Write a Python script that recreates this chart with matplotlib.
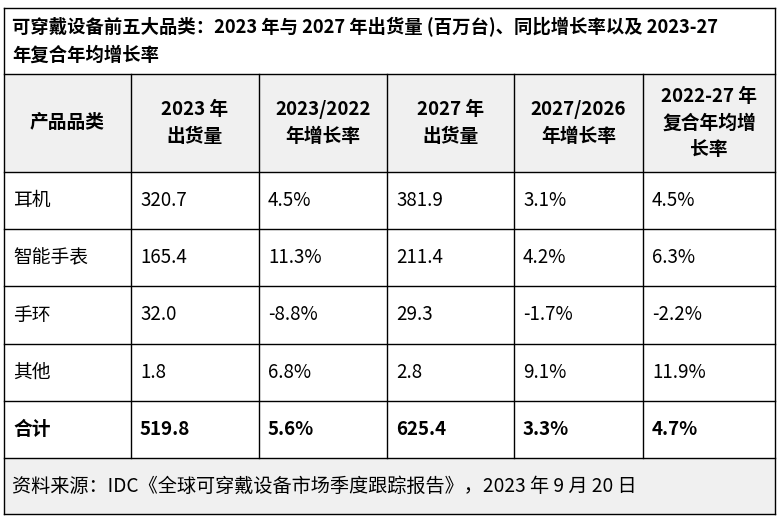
import matplotlib
matplotlib.use('Agg')
import matplotlib.pyplot as plt

plt.rcParams['font.family'] = ['Noto Sans CJK SC', 'DejaVu Sans']

# --- data ---
title = '可穿戴设备前五大品类：2023 年与 2027 年出货量 (百万台)、同比增长率以及 2023-27\n年复合年均增长率'
headers = ['产品品类', '2023 年\n出货量', '2023/2022\n年增长率', '2027 年\n出货量', '2027/2026\n年增长率', '2022-27 年\n复合年均增\n长率']
categories = ['耳机', '智能手表', '手环', '其他', '合计']
ship_2023 = ['320.7', '165.4', '32.0', '1.8', '519.8']
growth_2023 = ['4.5%', '11.3%', '-8.8%', '6.8%', '5.6%']
ship_2027 = ['381.9', '211.4', '29.3', '2.8', '625.4']
growth_2027 = ['3.1%', '4.2%', '-1.7%', '9.1%', '3.3%']
cagr = ['4.5%', '6.3%', '-2.2%', '11.9%', '4.7%']
source = '资料来源：IDC《全球可穿戴设备市场季度跟踪报告》，2023 年 9 月 20 日'

# --- layout (pixels) ---
W, H = 784, 522
col_x = [4, 131, 259, 387, 514, 643, 775]
top, title_bot, head_bot = 8, 74, 172
row_h = 57.2
src_bot = 514
gray = '#f0f0f0'

fig = plt.figure(figsize=(W / 100, H / 100), dpi=100)
ax = fig.add_axes([0, 0, 1, 1])
ax.set_xlim(0, W)
ax.set_ylim(H, 0)
ax.axis('off')

n = len(categories)
row_tops = [head_bot + i * row_h for i in range(n + 1)]
src_top = row_tops[-1]

ax.add_patch(plt.Rectangle((col_x[0], title_bot), col_x[-1] - col_x[0], head_bot - title_bot, color=gray, lw=0))
ax.add_patch(plt.Rectangle((col_x[0], src_top), col_x[-1] - col_x[0], src_bot - src_top, color=gray, lw=0))

lc, lw = 'black', 1.0
for y in [top, title_bot, head_bot] + row_tops[1:] + [src_bot]:
    ax.plot([col_x[0], col_x[-1]], [y, y], color=lc, lw=lw)
ax.plot([col_x[0]] * 2, [top, src_bot], color=lc, lw=lw)
ax.plot([col_x[-1]] * 2, [top, src_bot], color=lc, lw=lw)
for x in col_x[1:-1]:
    ax.plot([x, x], [title_bot, src_top], color=lc, lw=lw)

ax.text(12, 41, title, fontsize=13.2, fontweight='bold', va='center', ha='left', linespacing=1.6)

for i, h in enumerate(headers):
    cx = (col_x[i] + col_x[i + 1]) / 2
    ax.text(cx, (title_bot + head_bot) / 2, h, fontsize=13.5, fontweight='bold', ha='center', va='center', linespacing=1.5)

cols = [categories, ship_2023, growth_2023, ship_2027, growth_2027, cagr]
for r in range(n):
    cy = row_tops[r] + row_h / 2
    bold = 'bold' if r == n - 1 else 'normal'
    for c, vals in enumerate(cols):
        ax.text(col_x[c] + 9, cy, vals[r], fontsize=13.5, fontweight=bold, ha='left', va='center')

ax.text(12, (src_top + src_bot) / 2, source, fontsize=13.8, ha='left', va='center')

fig.savefig('out.png', dpi=100)
